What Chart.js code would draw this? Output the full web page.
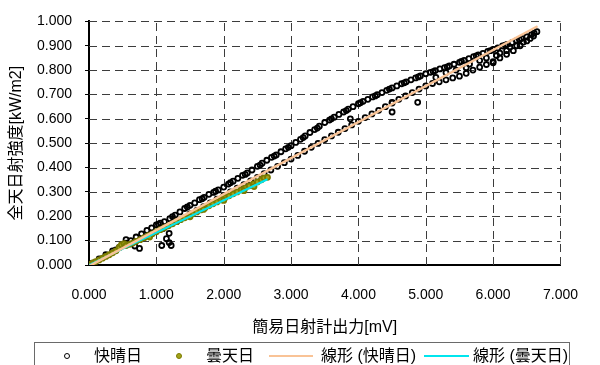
<!DOCTYPE html>
<html>
<head>
<meta charset="utf-8">
<script src="https://cdn.jsdelivr.net/npm/chart.js@4.4.1/dist/chart.umd.min.js"></script>
<style>
  html, body { margin: 0; padding: 0; background: #fff; }
  #wrap { position: relative; width: 600px; height: 365px; overflow: hidden; }
  #c { position: absolute; left: 0; top: 0; }
  #legend { position: absolute; left: 34px; top: 342px; width: 536px; height: 40px;
    border: 1px solid #6a6a6a; box-sizing: border-box; }
  .lg { position: absolute; font: 16px 'Liberation Sans', Arial, 'Noto Sans CJK JP', sans-serif;
    color: #000; top: 3px; line-height: 19px; white-space: nowrap; }
  .mk { position: absolute; box-sizing: border-box; border-radius: 50%; }
  .ln { position: absolute; height: 2px; }
</style>
</head>
<body>
<div id="wrap">
  <canvas id="c" width="600" height="365"></canvas>
  <div id="legend"></div>
</div>
<script>
// ---- data ----
const seriesNames = ['快晴日', '曇天日', '線形 (快晴日)', '線形 (曇天日)'];
const xTitle = '簡易日射計出力[mV]';
const yTitle = '全天日射強度[kW/m2]';
const xTicks = [0, 1, 2, 3, 4, 5, 6, 7];
const yTicks = [0, 0.1, 0.2, 0.3, 0.4, 0.5, 0.6, 0.7, 0.8, 0.9, 1.0];

// 快晴日 (clear day) - upper branch
const clearUpper = [
 [0.05,0.008],[0.15,0.025],[0.25,0.042],[0.35,0.058],[0.45,0.072],[0.55,0.09],[0.62,0.10],
 [0.70,0.115],[0.78,0.128],[0.86,0.142],[0.93,0.152],[1.00,0.165],[1.06,0.172],[1.12,0.178],
 [1.20,0.19],[1.28,0.205],[1.35,0.218],[1.42,0.232],[1.50,0.245],[1.57,0.255],[1.64,0.268],
 [1.71,0.278],[1.78,0.29],[1.85,0.298],[1.92,0.308],[2.00,0.32],[2.07,0.332],[2.14,0.344],
 [2.21,0.356],[2.28,0.368],[2.35,0.378],[2.42,0.39],[2.50,0.405],[2.57,0.418],[2.64,0.43],
 [2.71,0.442],[2.78,0.452],[2.85,0.465],[2.92,0.477],[3.00,0.49],[3.07,0.503],[3.14,0.516],
 [3.21,0.53],[3.28,0.544],[3.35,0.556],[3.42,0.57],[3.50,0.585],[3.57,0.595],[3.64,0.607],
 [3.71,0.618],[3.78,0.628],[3.85,0.64],[3.92,0.65],[4.00,0.662],[4.07,0.672],[4.14,0.68],
 [4.21,0.69],[4.28,0.699],[4.35,0.708],[4.42,0.717],[4.50,0.727],[4.57,0.735],[4.64,0.744],
 [4.71,0.752],[4.78,0.76],[4.85,0.768],[4.92,0.776],[5.00,0.785],[5.07,0.791],[5.14,0.798],
 [5.21,0.805],[5.28,0.81],[5.35,0.817],[5.42,0.824],[5.50,0.832],[5.57,0.84],[5.64,0.847],
 [5.71,0.855],[5.78,0.862],[5.85,0.869],[5.92,0.877],[6.00,0.885],[6.07,0.891],[6.14,0.899],
 [6.21,0.906],[6.28,0.913],[6.35,0.921],[6.42,0.93],[6.50,0.937],[6.57,0.946],[6.65,0.958],
 [1.03,0.168],[1.24,0.198],[1.46,0.238],[1.68,0.272],[1.88,0.303],[2.10,0.338],[2.32,0.372],
 [2.54,0.41],[2.75,0.447],[2.96,0.483],[3.18,0.523],[3.39,0.562],[3.60,0.6],[3.82,0.634],
 [4.03,0.666],[4.25,0.694],[4.46,0.722],[4.68,0.748],[4.89,0.772],[5.11,0.794],[5.32,0.813],
 [5.53,0.836],[5.75,0.858],[5.96,0.88],[6.18,0.902],[6.39,0.925],[6.61,0.952]
];
// 快晴日 - lower branch, middle band and outliers
const clearLower = [
 [1.10,0.150],[1.30,0.178],[1.50,0.21],[1.60,0.224],[1.70,0.24],[1.80,0.255],[1.90,0.27],
 [2.00,0.285],[2.10,0.30],[2.20,0.315],[2.30,0.33],[2.40,0.345],[2.50,0.36],[2.60,0.375],
 [2.70,0.39],[2.80,0.405],[2.90,0.42],[3.00,0.435],[3.10,0.45],[3.20,0.467],[3.30,0.483],
 [3.40,0.499],[3.50,0.515],[3.60,0.53],[3.70,0.545],[3.80,0.56],[3.90,0.575],[4.00,0.59],
 [4.10,0.605],[4.20,0.62],[4.30,0.635],[4.40,0.65],[4.50,0.665],[4.60,0.68],[4.70,0.694],
 [4.80,0.708],[4.90,0.722],[5.00,0.735],[5.10,0.745],[5.20,0.752],[5.30,0.76],[5.40,0.768],
 [5.50,0.775],[5.60,0.787],[5.70,0.80],[5.80,0.812],[5.90,0.823],[6.00,0.835],[6.10,0.85],
 [6.20,0.865],[6.30,0.88],[6.40,0.90],[6.50,0.92],[6.60,0.94],
 [5.30,0.79],[5.60,0.81],[5.80,0.84],[5.90,0.85],[6.10,0.87],[6.20,0.88],[6.35,0.90],
 [6.45,0.915],[6.55,0.93],[5.45,0.80],[6.25,0.895],[5.15,0.77],[5.65,0.825],[6.05,0.86],
 [3.88,0.60],[4.50,0.628],[4.50,0.668],[4.88,0.668],[6.00,0.83],
 [1.08,0.08],[1.15,0.108],[1.19,0.092],[1.22,0.08],[1.19,0.13],[0.75,0.068],[0.55,0.104],
 [0.68,0.078],[0.40,0.062]
];
// 曇天日 (cloudy day)
const cloudy = [
 [0.02,0.003],[0.06,0.009],[0.10,0.014],[0.15,0.021],[0.20,0.028],[0.25,0.035],[0.30,0.042],
 [0.35,0.05],[0.40,0.058],[0.45,0.072],[0.48,0.083],[0.52,0.088],[0.55,0.08],[0.60,0.085],
 [0.65,0.09],[0.70,0.097],[0.76,0.104],[0.82,0.112],[0.88,0.12],[0.94,0.128],[1.00,0.137],
 [1.06,0.145],[1.12,0.153],[1.18,0.161],[1.24,0.169],[1.30,0.178],[1.36,0.186],[1.42,0.194],
 [1.48,0.202],[1.54,0.21],[1.60,0.218],[1.66,0.226],[1.72,0.234],[1.78,0.243],[1.84,0.251],
 [1.90,0.259],[1.96,0.267],[2.02,0.276],[2.08,0.284],[2.14,0.292],[2.20,0.30],[2.26,0.309],
 [2.32,0.317],[2.38,0.325],[2.44,0.333],[2.50,0.341],[2.56,0.35],[2.60,0.358],[2.65,0.36],
 [2.30,0.305],[2.45,0.322],[2.00,0.265],[1.50,0.198],[0.90,0.115],[1.70,0.228]
];
// linear trend lines (end points)
const trendClear = [[0.0,-0.005],[6.66,0.98]];
const trendCloudy = [[0.0,0.0],[2.65,0.352]];

// ---- styles ----
const FONT = "'Liberation Sans', Arial, 'Noto Sans CJK JP', sans-serif";
const colClear = '#000000';
const colCloudyBorder = '#7a7a00';
const colCloudyFill = '#a3a31a';
const colTrendClear = '#f9c396';
const colTrendCloudy = '#00e5ee';
const gridCol = '#3c3c3c';

Chart.defaults.font.family = FONT;
Chart.defaults.color = '#000';

const toPts = arr => arr.map(p => ({x: p[0], y: p[1]}));

// dashed grid lines drawn through the scales' own tick positions
const dashedGrid = {
  id: 'dashedGrid',
  beforeDatasetsDraw(chart) {
    const {ctx, chartArea: a, scales: {x, y}} = chart;
    ctx.save();
    ctx.strokeStyle = gridCol;
    ctx.lineWidth = 1;
    ctx.setLineDash([8, 5]);
    x.ticks.forEach(t => {
      const px = Math.round(x.getPixelForValue(t.value)) + 0.5;
      if (t.value === xTicks[0]) return;
      ctx.beginPath(); ctx.moveTo(px, a.bottom); ctx.lineTo(px, a.top); ctx.stroke();
    });
    y.ticks.forEach(t => {
      const py = Math.round(y.getPixelForValue(t.value)) + 0.5;
      if (t.value === yTicks[0]) return;
      ctx.beginPath(); ctx.moveTo(a.left, py); ctx.lineTo(a.right, py); ctx.stroke();
    });
    ctx.restore();
  }
};

new Chart(document.getElementById('c'), {
  type: 'scatter',
  data: {
    datasets: [
      { label: seriesNames[2], data: toPts(trendClear), showLine: true, borderColor: colTrendClear,
        borderWidth: 2.5, pointRadius: 0, order: 0 },
      { label: seriesNames[3], data: toPts(trendCloudy), showLine: true, borderColor: colTrendCloudy,
        borderWidth: 2, pointRadius: 0, order: 1 },
      { label: seriesNames[1], data: toPts(cloudy), pointRadius: 2.5, borderWidth: 1.8,
        borderColor: colCloudyBorder, backgroundColor: colCloudyFill, order: 2 },
      { label: seriesNames[0], data: toPts(clearUpper.concat(clearLower)), pointRadius: 2.5, borderWidth: 1.8,
        borderColor: colClear, backgroundColor: 'rgba(255,255,255,0)', order: 3 }
    ]
  },
  plugins: [dashedGrid],
  options: {
    responsive: false,
    animation: false,
    devicePixelRatio: 1,
    layout: { padding: { left: 0, right: 17, top: 15, bottom: 24 } },
    plugins: { legend: { display: false }, tooltip: { enabled: false } },
    scales: {
      x: {
        type: 'linear', min: 0, max: 7,
        afterBuildTicks: s => { s.ticks = xTicks.map(v => ({value: v})); },
        afterFit: s => { s.height = 76; },
        ticks: { font: { size: 14 }, padding: 22, callback: v => Number(v).toFixed(3), maxRotation: 0, autoSkip: false },
        grid: { display: true, drawOnChartArea: false, drawTicks: false },
        border: { display: true, color: '#000', width: 2 },
        title: { display: true, text: xTitle, font: { size: 16 }, padding: { top: 4, bottom: 4 } }
      },
      y: {
        type: 'linear', min: 0, max: 1,
        afterBuildTicks: s => { s.ticks = yTicks.map(v => ({value: v})); },
        afterFit: s => { s.width = 89; },
        ticks: { font: { size: 14 }, padding: 13, callback: v => Number(v).toFixed(3), autoSkip: false },
        grid: { display: true, drawOnChartArea: false, drawTicks: true, tickLength: 4, tickColor: '#000', tickWidth: 1 },
        border: { display: true, color: '#000', width: 2 },
        title: { display: true, text: yTitle, font: { size: 16 }, padding: { top: 7, bottom: 4 } }
      }
    }
  }
});

// ---- HTML legend (text kept as real text) ----
const legend = document.getElementById('legend');
const L = 34, T = 342;
function add(html) { legend.insertAdjacentHTML('beforeend', html); }
add(`<div class="mk" style="left:${66-L-3}px;top:${355-T-3}px;width:6px;height:6px;border:1.5px solid ${colClear};"></div>`);
add(`<div class="lg" style="left:${93-L}px">${seriesNames[0]}</div>`);
add(`<div class="mk" style="left:${178-L-3}px;top:${355-T-3}px;width:6px;height:6px;border:1.5px solid ${colCloudyBorder};background:${colCloudyFill}"></div>`);
add(`<div class="lg" style="left:${205-L}px">${seriesNames[1]}</div>`);
add(`<div class="ln" style="left:${268-L}px;top:${354-T}px;width:44px;background:${colTrendClear}"></div>`);
add(`<div class="lg" style="left:${320-L}px">${seriesNames[2]}</div>`);
add(`<div class="ln" style="left:${423-L}px;top:${354-T}px;width:45px;background:${colTrendCloudy}"></div>`);
add(`<div class="lg" style="left:${472-L}px">${seriesNames[3]}</div>`);
</script>
</body>
</html>
